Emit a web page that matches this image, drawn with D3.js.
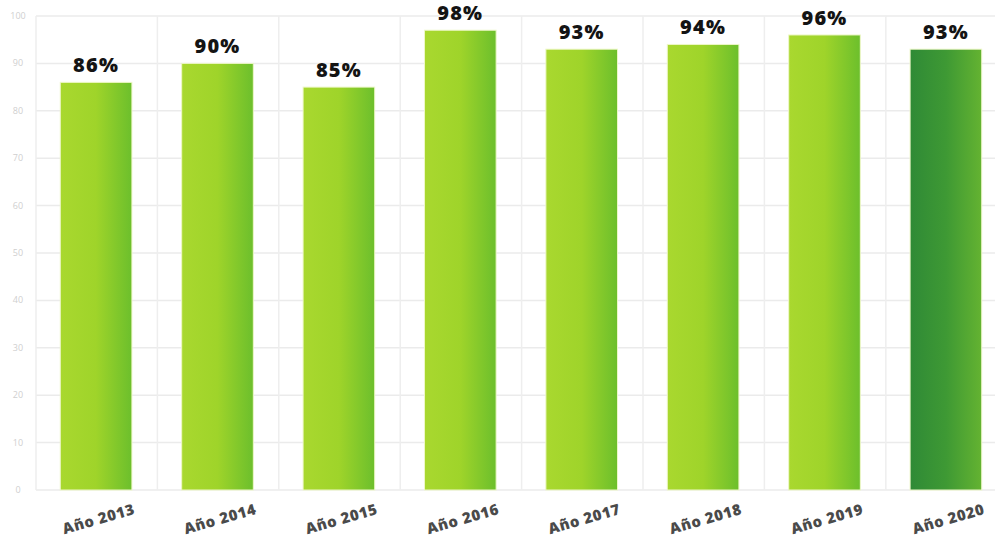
<!DOCTYPE html>
<html>
<head>
<meta charset="utf-8">
<script src="https://cdn.jsdelivr.net/npm/d3@7"></script>
<style>
  body { margin: 0; background: #fff; }
  svg { display: block; overflow: hidden; }
</style>
</head>
<body>
<svg width="995" height="543"></svg>
<script>
// data
var years = ["Año 2013", "Año 2014", "Año 2015", "Año 2016", "Año 2017", "Año 2018", "Año 2019", "Año 2020"];
var values = [86, 90, 85, 97, 93, 94, 96, 93];
var labels = ["86%", "90%", "85%", "98%", "93%", "94%", "96%", "93%"];
var yTicks = [0, 10, 20, 30, 40, 50, 60, 70, 80, 90, 100];

var svg = d3.select("svg");

var x = d3.scaleBand()
    .domain(years)
    .range([36, 1006])
    .paddingInner(0.41)
    .paddingOuter(0.2);

var y = d3.scaleLinear()
    .domain([0, 100])
    .range([490, 16]);

var defs = svg.append("defs");
function grad(id, c1, c2, c3) {
    var g = defs.append("linearGradient").attr("id", id)
        .attr("x1", "0%").attr("x2", "100%").attr("y1", "0%").attr("y2", "0%");
    g.append("stop").attr("offset", "0%").attr("stop-color", c1);
    g.append("stop").attr("offset", "50%").attr("stop-color", c2);
    g.append("stop").attr("offset", "100%").attr("stop-color", c3);
}
grad("lime", "#a9d82f", "#9fd42a", "#6cbf2c");
grad("dark", "#2f8a36", "#3e9934", "#64b331");

// horizontal grid
svg.append("g")
    .attr("class", "hgrid")
    .selectAll("line")
    .data(yTicks)
    .enter().append("line")
    .attr("x1", 36)
    .attr("x2", 995)
    .attr("y1", function (d) { return y(d); })
    .attr("y2", function (d) { return y(d); })
    .attr("stroke", "#ebebeb")
    .attr("stroke-width", 1.5);

// vertical grid at band edges
var edge = x.step() * x.paddingOuter();
svg.append("g")
    .attr("class", "vgrid")
    .selectAll("line")
    .data(years)
    .enter().append("line")
    .attr("x1", function (d) { return x(d) - edge; })
    .attr("x2", function (d) { return x(d) - edge; })
    .attr("y1", y(100))
    .attr("y2", y(0))
    .attr("stroke", "#eeeeee")
    .attr("stroke-width", 1.5);

// y tick labels
svg.append("g")
    .selectAll("text")
    .data(yTicks)
    .enter().append("text")
    .attr("x", 18)
    .attr("y", function (d) { return y(d) + 3; })
    .attr("text-anchor", "middle")
    .attr("font-family", "Open Sans, sans-serif")
    .attr("font-size", 9)
    .attr("fill", "#cfcfcf")
    .text(function (d) { return d; });

// bars
svg.append("g")
    .attr("class", "bars")
    .selectAll("rect")
    .data(values)
    .enter().append("rect")
    .attr("x", function (d, i) { return x(years[i]); })
    .attr("y", function (d) { return y(d); })
    .attr("width", x.bandwidth())
    .attr("height", function (d) { return y(0) - y(d); })
    .attr("fill", function (d, i) { return i === years.length - 1 ? "url(#dark)" : "url(#lime)"; })
    .attr("stroke", "#eef7c8")
    .attr("stroke-width", 1);

// value labels
svg.append("g")
    .selectAll("text")
    .data(values)
    .enter().append("text")
    .attr("x", function (d, i) { return x(years[i]) + x.bandwidth() / 2; })
    .attr("y", function (d) { return y(d) - 10; })
    .attr("text-anchor", "middle")
    .attr("font-family", "Open Sans, sans-serif")
    .attr("font-weight", 800)
    .attr("font-size", 20)
    .attr("letter-spacing", 1.2)
    .attr("fill", "#141414")
    .text(function (d, i) { return labels[i]; });

// x labels, tilted
svg.append("g")
    .selectAll("text")
    .data(years)
    .enter().append("text")
    .attr("transform", function (d) {
        return "translate(" + (x(d) + x.bandwidth() / 2 + 4) + ",524) rotate(-16)";
    })
    .attr("text-anchor", "middle")
    .attr("font-family", "Open Sans, sans-serif")
    .attr("font-weight", 800)
    .attr("font-size", 15)
    .attr("letter-spacing", 0.6)
    .attr("fill", "#4a4a4a")
    .text(function (d) { return d; });
</script>
</body>
</html>
